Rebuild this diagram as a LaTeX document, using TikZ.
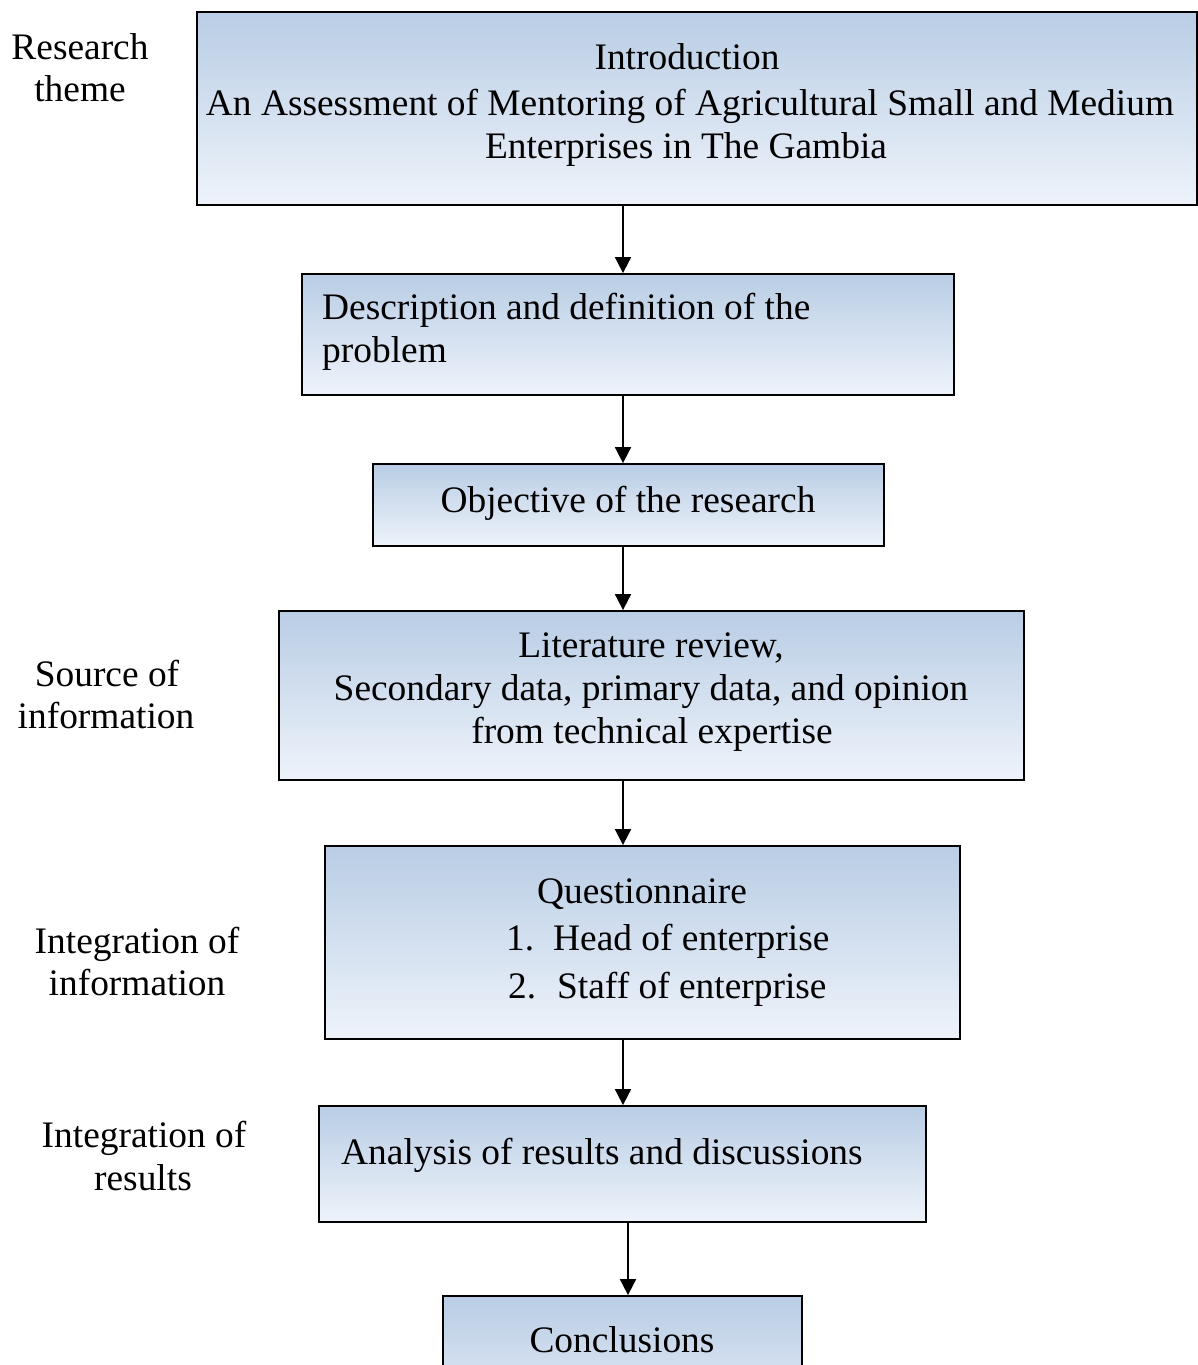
\documentclass[tikz,border=0pt]{standalone}
\usepackage{fontspec}
\setmainfont{Liberation Serif}
\usetikzlibrary{arrows.meta}
\definecolor{gtop}{RGB}{185,205,229}
\definecolor{gbot}{RGB}{238,243,250}
\tikzset{
  box/.style={draw=black, line width=1.8pt, rectangle, inner sep=0pt, top color=gtop, bottom color=gbot, shading angle=0},
  txt/.style={inner sep=0pt, font=\fontsize{37.4}{43}\selectfont, anchor=base},
  txtl/.style={txt, anchor=base west},
  conn/.style={line width=1.8pt, -{Triangle[width=16pt,length=16pt]}}
}
\begin{document}
\begin{tikzpicture}[x=1pt,y=-1pt]
\useasboundingbox (0,0) rectangle (1198,1365);
\clip (0,0) rectangle (1198,1365);
% boxes
\node[box, minimum width=1000pt, minimum height=193pt] (b1) at (697,108.5) {};
\node[box, minimum width=652pt, minimum height=121pt] (b2) at (628,334.5) {};
\node[box, minimum width=511pt, minimum height=82pt] (b3) at (628.5,505) {};
\node[box, minimum width=745pt, minimum height=169pt] (b4) at (651.5,695.5) {};
\node[box, minimum width=635pt, minimum height=193pt] (b5) at (642.5,942.5) {};
\node[box, minimum width=607pt, minimum height=116pt] (b6) at (622.5,1164) {};
\node[box, minimum width=359pt, minimum height=150pt] (b7) at (622.5,1371) {};
% texts in boxes
\node[txt] (t1a) at (687,69) {Introduction};
\node[txt] (t1b) at (690,115) {An Assessment of Mentoring of Agricultural Small and Medium};
\node[txt] (t1c) at (686,158) {Enterprises in The Gambia};
\node[txtl] (t2a) at (322,319) {Description and definition of the};
\node[txtl] (t2b) at (322,362) {problem};
\node[txt] (t3) at (628,512) {Objective of the research};
\node[txt] (t4a) at (651,657) {Literature review,};
\node[txt] (t4b) at (651,700) {Secondary data, primary data, and opinion};
\node[txt] (t4c) at (652,743) {from technical expertise};
\node[txt] (t5a) at (642,903) {Questionnaire};
\node[txtl] (t5b) at (506,950) {\makebox[47pt][l]{1.}Head of enterprise};
\node[txtl] (t5c) at (508,998) {\makebox[49pt][l]{2.}Staff of enterprise};
\node[txtl] (t6) at (341,1164) {Analysis of results and discussions};
\node[txt] (t7) at (622,1352) {Conclusions};
% side labels
\node[txt] (l1a) at (80,59) {Research};
\node[txt] (l1b) at (80,101) {theme};
\node[txt] (l2a) at (107,686) {Source of};
\node[txt] (l2b) at (106,728) {information};
\node[txt] (l3a) at (137,953) {Integration of};
\node[txt] (l3b) at (137,995) {information};
\node[txt] (l4a) at (144,1147) {Integration of};
\node[txt] (l4b) at (143,1190) {results};
% connectors
\draw[conn] (b1.south -| 623,0) -- (b2.north -| 623,0);
\draw[conn] (b2.south -| 623,0) -- (b3.north -| 623,0);
\draw[conn] (b3.south -| 623,0) -- (b4.north -| 623,0);
\draw[conn] (b4.south -| 623,0) -- (b5.north -| 623,0);
\draw[conn] (b5.south -| 623,0) -- (b6.north -| 623,0);
\draw[conn] (b6.south -| 628,0) -- (b7.north -| 628,0);
\end{tikzpicture}
\end{document}
